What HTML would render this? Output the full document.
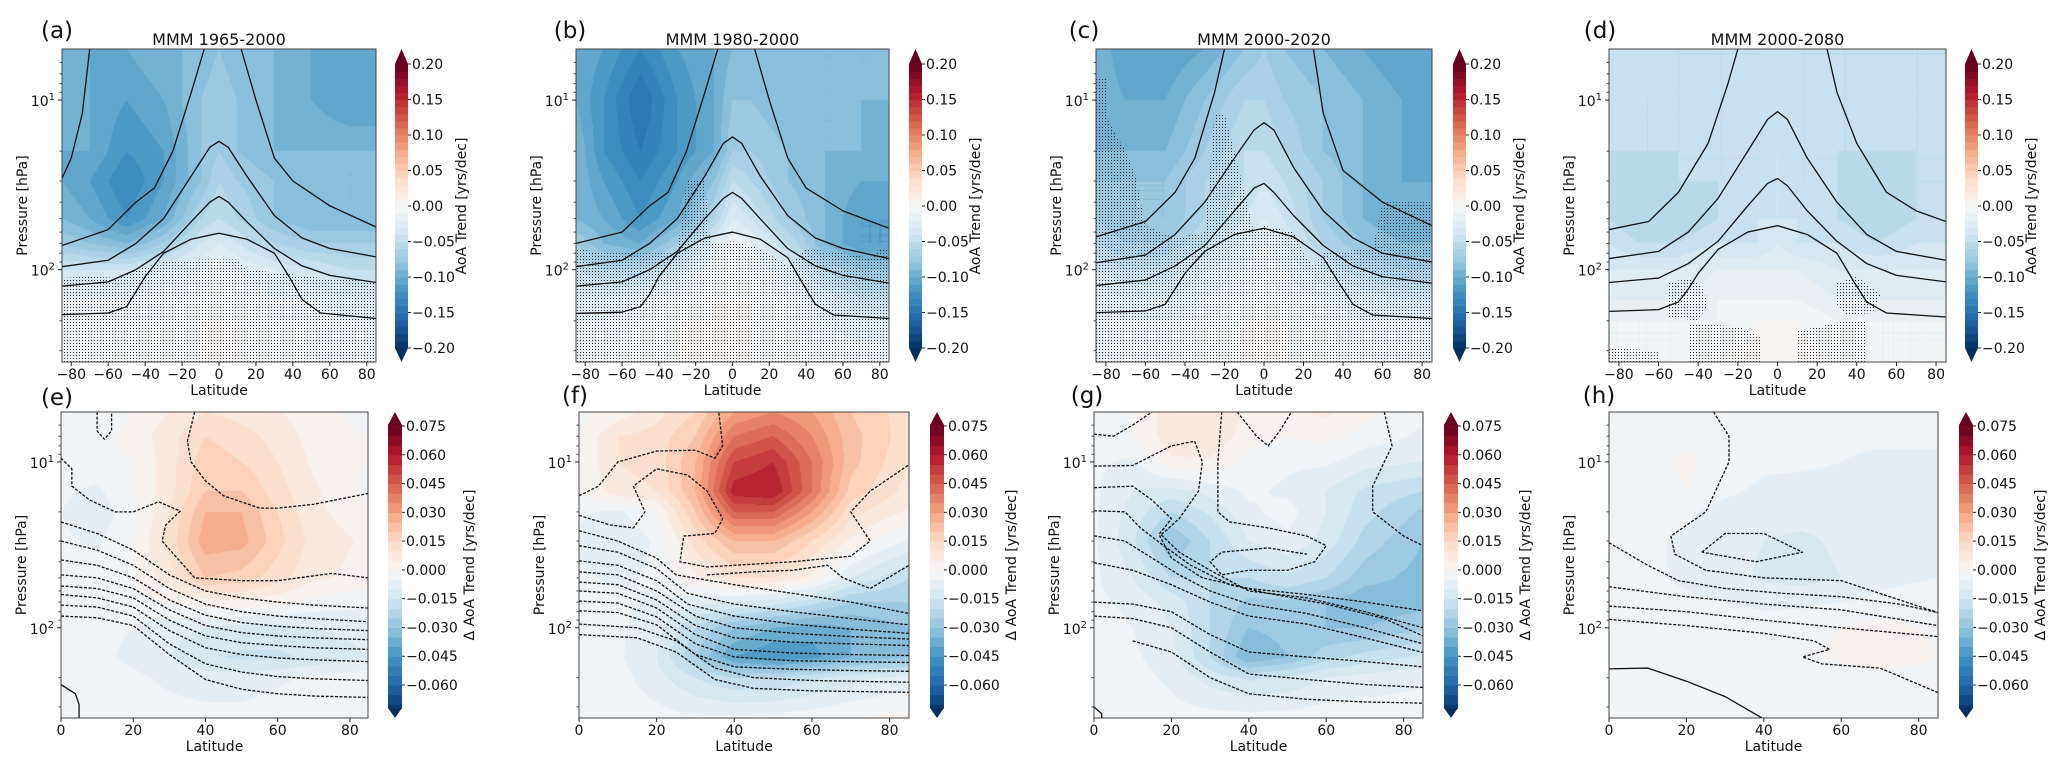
<!DOCTYPE html>
<html><head><meta charset="utf-8">
<style>
html,body{margin:0;padding:0;background:#fff;}
#wrap{position:relative;width:2067px;height:769px;overflow:hidden;background:#fff;font-family:"DejaVu Sans","Liberation Sans",sans-serif;}
canvas{position:absolute;}
svg{position:absolute;left:0;top:0;}
</style></head>
<body>
<div id="wrap">
<svg id="ov" width="2067" height="769">
<defs>
<pattern id="dots" width="3" height="3" patternUnits="userSpaceOnUse"><rect x="1" y="1" width="1" height="1" fill="#222"/></pattern>
</defs>
</svg>
</div>
<script>
// ---------- DATA ----------
const TOP_P=[5,10,20,30,50,70,100,150,200,350];
const TOP_LAT=[-85,-70,-50,-30,-10,0,10,30,50,70,85];
const BOT_P=[5,7,10,15,20,30,50,70,100,150,200,350];
const BOT_LAT=[0,10,20,30,40,50,60,70,85];
const TOP_TICKS=[-0.20,-0.15,-0.10,-0.05,0.00,0.05,0.10,0.15,0.20];
const BOT_TICKS=[-0.060,-0.045,-0.030,-0.015,0.000,0.015,0.030,0.045,0.060,0.075];
const TOP_XT=[-80,-60,-40,-20,0,20,40,60,80];
const BOT_XT=[0,20,40,60,80];
const TITLES=["MMM 1965-2000","MMM 1980-2000","MMM 2000-2020","MMM 2000-2080"];

const fieldA=[
[-0.09,-0.10,-0.10,-0.09,-0.09,-0.08,-0.09,-0.09,-0.10,-0.10,-0.10],
[-0.09,-0.10,-0.11,-0.10,-0.08,-0.07,-0.08,-0.09,-0.10,-0.11,-0.11],
[-0.10,-0.10,-0.12,-0.11,-0.08,-0.07,-0.08,-0.09,-0.09,-0.09,-0.09],
[-0.10,-0.11,-0.13,-0.11,-0.08,-0.06,-0.07,-0.08,-0.09,-0.09,-0.09],
[-0.09,-0.10,-0.12,-0.10,-0.06,-0.05,-0.06,-0.08,-0.09,-0.09,-0.09],
[-0.07,-0.08,-0.09,-0.07,-0.04,-0.03,-0.04,-0.06,-0.07,-0.07,-0.07],
[-0.04,-0.04,-0.04,-0.03,-0.02,-0.01,-0.02,-0.03,-0.04,-0.05,-0.05],
[-0.02,-0.02,-0.02,-0.01,-0.01,0.00,-0.01,-0.02,-0.02,-0.03,-0.03],
[-0.01,-0.01,-0.01,-0.01,0.00,0.00,0.00,-0.01,-0.01,-0.02,-0.02],
[-0.01,-0.01,-0.01,0.00,0.00,0.00,0.00,0.00,-0.01,-0.01,-0.01]];
const fieldB=[
[-0.10,-0.11,-0.13,-0.11,-0.10,-0.09,-0.09,-0.09,-0.09,-0.09,-0.09],
[-0.10,-0.12,-0.15,-0.12,-0.10,-0.08,-0.08,-0.09,-0.09,-0.09,-0.09],
[-0.09,-0.12,-0.14,-0.12,-0.10,-0.07,-0.07,-0.08,-0.09,-0.09,-0.10],
[-0.09,-0.11,-0.13,-0.11,-0.08,-0.05,-0.06,-0.08,-0.09,-0.10,-0.10],
[-0.09,-0.10,-0.12,-0.10,-0.06,-0.03,-0.04,-0.07,-0.09,-0.11,-0.11],
[-0.07,-0.09,-0.10,-0.07,-0.03,-0.01,-0.02,-0.05,-0.09,-0.11,-0.11],
[-0.05,-0.06,-0.06,-0.04,-0.01,0.00,-0.01,-0.03,-0.06,-0.08,-0.08],
[-0.03,-0.03,-0.02,-0.01,0.00,0.00,0.00,-0.01,-0.03,-0.05,-0.05],
[-0.02,-0.02,-0.01,0.00,0.00,0.00,0.00,-0.01,-0.02,-0.03,-0.03],
[-0.01,-0.01,0.00,0.00,0.00,0.00,0.00,0.00,-0.01,-0.01,-0.01]];
const fieldC=[
[-0.09,-0.11,-0.11,-0.10,-0.08,-0.07,-0.08,-0.09,-0.10,-0.11,-0.11],
[-0.09,-0.10,-0.10,-0.08,-0.06,-0.06,-0.07,-0.08,-0.09,-0.10,-0.11],
[-0.09,-0.09,-0.09,-0.07,-0.05,-0.05,-0.06,-0.08,-0.09,-0.10,-0.11],
[-0.08,-0.08,-0.08,-0.06,-0.05,-0.04,-0.05,-0.07,-0.09,-0.10,-0.10],
[-0.07,-0.08,-0.08,-0.06,-0.04,-0.03,-0.04,-0.07,-0.09,-0.10,-0.10],
[-0.06,-0.07,-0.07,-0.05,-0.03,-0.02,-0.03,-0.06,-0.08,-0.09,-0.09],
[-0.04,-0.05,-0.05,-0.03,-0.02,-0.01,-0.02,-0.04,-0.06,-0.07,-0.07],
[-0.02,-0.03,-0.03,-0.02,-0.01,0.00,-0.01,-0.02,-0.03,-0.04,-0.04],
[-0.01,-0.02,-0.02,-0.01,0.00,0.00,0.00,-0.01,-0.02,-0.02,-0.02],
[-0.01,-0.01,-0.01,0.00,0.00,0.00,0.00,0.00,-0.01,-0.01,-0.01]];
const fieldD=[
[-0.05,-0.04,-0.05,-0.05,-0.05,-0.04,-0.05,-0.05,-0.05,-0.05,-0.05],
[-0.05,-0.05,-0.05,-0.05,-0.05,-0.05,-0.05,-0.05,-0.05,-0.05,-0.05],
[-0.05,-0.05,-0.05,-0.05,-0.05,-0.04,-0.05,-0.05,-0.05,-0.05,-0.05],
[-0.05,-0.06,-0.05,-0.05,-0.05,-0.04,-0.05,-0.05,-0.06,-0.05,-0.05],
[-0.05,-0.06,-0.06,-0.05,-0.04,-0.04,-0.04,-0.05,-0.06,-0.05,-0.05],
[-0.04,-0.05,-0.05,-0.04,-0.04,-0.03,-0.04,-0.04,-0.05,-0.04,-0.04],
[-0.03,-0.03,-0.03,-0.02,-0.02,-0.02,-0.02,-0.03,-0.03,-0.03,-0.03],
[-0.02,-0.02,-0.02,-0.01,-0.01,-0.01,-0.01,-0.02,-0.02,-0.02,-0.02],
[-0.01,-0.01,-0.01,-0.01,0.00,0.00,0.00,-0.01,-0.01,-0.01,-0.01],
[-0.01,-0.01,-0.01,0.00,0.003,0.004,0.003,0.00,-0.01,-0.01,-0.01]];
const fieldE=[
[-0.003,-0.003,0.000,0.005,0.010,0.008,0.005,0.003,-0.003],
[-0.003,-0.002,0.002,0.008,0.015,0.012,0.008,0.003,0.000],
[-0.002,-0.002,0.000,0.008,0.018,0.015,0.010,0.004,0.000],
[-0.004,-0.006,0.000,0.008,0.020,0.020,0.012,0.006,-0.002],
[-0.005,-0.008,-0.002,0.010,0.025,0.025,0.015,0.006,0.002],
[-0.004,-0.006,0.000,0.012,0.028,0.027,0.017,0.008,0.004],
[-0.002,-0.003,0.000,0.008,0.020,0.018,0.012,0.006,0.003],
[-0.003,-0.003,-0.002,0.000,0.003,0.004,0.002,-0.002,-0.004],
[-0.004,-0.004,-0.005,-0.008,-0.010,-0.012,-0.012,-0.010,-0.008],
[-0.004,-0.004,-0.006,-0.010,-0.014,-0.016,-0.016,-0.014,-0.010],
[-0.004,-0.004,-0.004,-0.006,-0.008,-0.008,-0.006,-0.004,-0.002],
[-0.003,-0.003,-0.003,-0.003,-0.003,-0.003,-0.002,-0.001,0.000]];
const fieldF=[
[-0.002,0.002,0.008,0.015,0.030,0.035,0.030,0.020,0.012],
[0.000,0.010,0.012,0.020,0.040,0.045,0.035,0.022,0.012],
[0.000,0.010,0.012,0.025,0.050,0.055,0.040,0.022,0.010],
[0.000,0.008,0.010,0.025,0.058,0.060,0.040,0.018,0.008],
[-0.004,-0.006,0.000,0.020,0.045,0.045,0.030,0.012,0.004],
[-0.006,-0.010,-0.004,0.012,0.025,0.025,0.015,0.004,-0.006],
[-0.004,-0.006,-0.004,0.004,0.010,0.010,0.004,-0.010,-0.020],
[-0.003,-0.004,-0.006,-0.008,-0.010,-0.012,-0.018,-0.025,-0.025],
[-0.003,-0.004,-0.008,-0.020,-0.030,-0.035,-0.038,-0.035,-0.030],
[-0.003,-0.004,-0.010,-0.025,-0.040,-0.045,-0.042,-0.035,-0.030],
[-0.003,-0.003,-0.008,-0.015,-0.020,-0.020,-0.016,-0.012,-0.008],
[-0.002,-0.002,-0.003,-0.004,-0.004,-0.003,-0.002,0.000,0.002]];
const fieldG=[
[-0.002,0.000,0.008,0.010,0.004,0.004,0.006,0.002,-0.004],
[-0.002,0.000,0.008,0.010,0.002,0.000,0.002,-0.002,-0.006],
[-0.004,-0.006,0.004,0.004,-0.002,-0.004,-0.004,-0.008,-0.010],
[-0.004,-0.010,-0.012,-0.008,-0.004,-0.006,-0.010,-0.016,-0.020],
[-0.004,-0.012,-0.020,-0.014,-0.006,-0.003,-0.010,-0.018,-0.026],
[-0.004,-0.014,-0.030,-0.020,-0.010,-0.006,-0.012,-0.022,-0.030],
[-0.004,-0.010,-0.020,-0.020,-0.020,-0.016,-0.020,-0.028,-0.032],
[-0.004,-0.006,-0.012,-0.020,-0.026,-0.026,-0.030,-0.034,-0.032],
[-0.003,-0.005,-0.010,-0.020,-0.030,-0.028,-0.030,-0.030,-0.026],
[-0.003,-0.004,-0.008,-0.020,-0.035,-0.030,-0.022,-0.018,-0.014],
[-0.003,-0.003,-0.006,-0.012,-0.016,-0.014,-0.010,-0.008,-0.006],
[-0.003,-0.003,-0.003,-0.003,-0.003,-0.003,-0.002,-0.002,-0.002]];
const fieldH=[
[-0.003,-0.003,-0.002,-0.002,-0.003,-0.004,-0.004,-0.004,-0.004],
[-0.003,-0.002,-0.001,-0.002,-0.003,-0.004,-0.004,-0.004,-0.004],
[-0.003,-0.002,0.001,-0.002,-0.004,-0.004,-0.005,-0.006,-0.006],
[-0.004,-0.003,0.000,-0.004,-0.006,-0.007,-0.007,-0.007,-0.007],
[-0.004,-0.004,-0.004,-0.007,-0.008,-0.008,-0.008,-0.007,-0.007],
[-0.004,-0.004,-0.006,-0.008,-0.010,-0.011,-0.009,-0.007,-0.006],
[-0.003,-0.004,-0.006,-0.008,-0.011,-0.012,-0.010,-0.006,-0.005],
[-0.003,-0.003,-0.004,-0.005,-0.006,-0.006,-0.005,-0.004,-0.003],
[-0.002,-0.002,-0.002,-0.003,-0.003,-0.002,0.000,0.002,-0.001],
[-0.003,-0.003,-0.002,-0.002,-0.002,-0.001,0.001,0.003,0.000],
[-0.003,-0.003,-0.003,-0.003,-0.003,-0.003,-0.003,-0.002,-0.002],
[-0.003,-0.003,-0.003,-0.003,-0.003,-0.003,-0.003,-0.003,-0.003]];

// contour lines [lat, pressure]
const contA=[
[[-70,5],[-74,12],[-80,22],[-85,29]],
[[-85,72],[-60,58],[-45,40],[-35,33],[-25,20],[-15,9],[-8,5],[0,3.5],[12,5],[20,10],[30,22],[40,30],[60,42],[85,56]],
[[-85,96],[-60,88],[-45,70],[-30,50],[-15,28],[-5,19],[0,17.5],[5,19],[15,28],[30,48],[45,65],[60,75],[85,84]],
[[-85,125],[-60,118],[-45,100],[-30,78],[-15,52],[-5,40],[0,37],[5,40],[15,52],[30,75],[45,95],[60,108],[85,119]],
[[-85,184],[-60,180],[-50,165],[-45,135],[-40,110],[-30,80],[-15,66],[0,61],[15,66],[30,80],[38,110],[45,150],[55,180],[85,194]]];
const contB=[
[[-85,70],[-60,60],[-45,42],[-35,35],[-25,20],[-15,9],[-8,5],[0,3.5],[12,5],[20,10],[30,22],[40,33],[60,45],[85,57]],
[[-85,96],[-60,88],[-45,70],[-30,50],[-15,28],[-5,18],[0,16.5],[5,18],[15,28],[30,48],[45,65],[60,75],[85,86]],
[[-85,125],[-60,118],[-45,100],[-30,78],[-15,50],[-5,38],[0,35],[5,38],[15,50],[30,75],[45,95],[60,108],[85,120]],
[[-85,181],[-60,178],[-50,165],[-45,140],[-40,110],[-30,80],[-15,65],[0,60],[15,66],[30,85],[38,120],[45,160],[55,185],[85,194]]];
const contC=[
[[-85,64],[-60,52],[-45,35],[-35,22],[-25,9],[-20,5],[0,3],[25,5],[30,12],[40,26],[60,40],[85,55]],
[[-85,91],[-60,82],[-45,62],[-30,40],[-15,22],[-5,15],[0,13.6],[5,15],[15,25],[30,45],[45,65],[60,80],[85,90]],
[[-85,124],[-60,115],[-45,95],[-30,72],[-15,45],[-5,33],[0,31],[5,35],[15,48],[30,72],[45,95],[60,110],[85,120]],
[[-85,179],[-60,175],[-50,160],[-45,130],[-40,105],[-30,78],[-15,62],[0,57],[15,64],[30,85],[38,120],[45,160],[55,185],[85,194]]];
const contD=[
[[-85,58],[-65,52],[-50,35],[-35,18],[-25,8],[-20,5],[0,3],[25,5],[30,9],[40,18],[55,35],[70,45],[85,52]],
[[-85,86],[-60,78],[-45,60],[-30,38],[-15,20],[-5,13],[0,11.7],[5,13],[15,22],[30,40],[45,62],[60,78],[85,88]],
[[-85,119],[-60,112],[-45,92],[-30,68],[-15,42],[-5,31],[0,29],[5,32],[15,45],[30,68],[45,92],[60,108],[85,118]],
[[-85,176],[-60,172],[-50,155],[-45,130],[-40,105],[-30,76],[-15,60],[0,55],[15,62],[30,80],[38,115],[45,155],[55,180],[85,190]]];
const contE=[
[[10,5],[10,6.5],[12,7.3],[14,6.5],[14,5]],
[[37,5],[35,7.5],[36,10],[40,13],[45,16],[55,19],[60,19],[70,18],[85,15.5]],
[[0,9.5],[3,11],[3,14],[8,17],[15,20],[20,20],[27,17.4],[33,19.8],[29,24],[28,30],[37,50],[50,52],[60,52],[75,47],[85,50]],
[[0,23],[10,27],[20,34],[30,48],[40,60],[50,66],[60,70],[70,73],[85,76]],
[[0,30],[10,34],[20,42],[30,58],[40,72],[50,80],[60,85],[70,88],[85,92]],
[[0,39],[10,42],[20,50],[30,68],[40,84],[50,93],[60,98],[70,101],[85,104]],
[[0,48],[10,50],[20,58],[30,78],[40,97],[50,107],[60,112],[70,115],[85,118]],
[[0,56],[10,58],[20,66],[30,90],[40,112],[50,123],[60,128],[70,132],[85,135]],
[[0,63],[10,66],[20,75],[30,104],[40,132],[50,145],[60,152],[70,156],[85,160]],
[[0,73],[10,75],[20,85],[30,125],[40,165],[50,185],[60,197],[70,203],[85,208]],
[[0,85],[10,87],[20,97],[30,145],[40,205],[50,235],[60,250],[70,258],[85,263]]];
const solidE=[[0,220],[4,250],[5,290],[5,360]];
const contF=[
[[0,16],[5,14],[10,10],[20,8.6],[30,8.5],[35,9.5],[37,8],[36,5]],
[[0,21],[8,24],[14,25],[17,20],[14,14],[20,11],[28,12],[33,15],[37,22],[35,27],[27,28],[26,40],[33,43],[40,42],[55,40],[70,37],[75,30],[70,20],[75,15],[85,10.4]],
[[33,48],[45,46],[55,45],[64,42],[68,50],[75,58],[85,42]],
[[0,26],[10,30],[20,38],[25,48],[40,55],[55,62],[70,70],[85,82]],
[[0,32],[10,35],[20,44],[28,62],[40,72],[55,80],[70,88],[85,96]],
[[0,39.5],[10,42],[20,52],[28,72],[40,85],[55,95],[70,102],[85,108]],
[[0,46],[10,48],[20,60],[30,85],[40,100],[55,108],[70,113],[85,117]],
[[0,53],[10,55],[20,68],[30,97],[40,115],[55,122],[70,125],[85,128]],
[[0,60],[10,62],[20,76],[30,110],[40,135],[55,142],[70,145],[85,147]],
[[0,69],[10,71],[20,86],[30,125],[40,150],[55,158],[70,160],[85,162]],
[[0,79],[10,81],[20,96],[30,145],[40,172],[55,178],[70,181],[85,183]],
[[0,95],[15,100],[25,120],[35,175],[45,200],[60,208],[85,213]],
[[0,110],[15,115],[25,140],[35,205],[45,232],[60,240],[85,245]]];
const solidF=[];
const contG=[
[[0,6.8],[5,7],[10,6],[15,5]],
[[37,5],[42,7],[45,8],[48,6.5],[51,5]],
[[75,5],[77,8],[72,14],[72,20],[80,28],[85,32]],
[[33,5],[32,10],[32,20],[35,23],[45,25],[55,28],[60,32],[57,40],[50,45],[40,45],[33,48],[30,40],[33,35],[45,33],[55,36]],
[[0,10.6],[10,10.5],[20,8],[26,7.5],[28,10],[27,15],[22,22],[17,28],[20,38],[28,50],[40,58],[55,63],[70,70],[85,79]],
[[0,14.3],[10,14],[15,17],[20,22],[17,27],[22,35],[30,45],[40,60],[55,66],[70,80],[85,100]],
[[0,19.7],[8,20],[12,25],[18,32],[25,42],[35,55],[45,62],[60,72],[75,88],[85,112]],
[[0,27.9],[8,30],[15,38],[22,48],[30,60],[40,72],[55,82],[70,100],[85,125]],
[[0,40.5],[10,45],[20,55],[30,70],[40,85],[55,95],[70,115],[85,141]],
[[0,70],[10,72],[20,80],[30,110],[40,140],[55,150],[70,160],[85,172]],
[[0,85],[10,88],[20,100],[30,140],[40,190],[55,205],[70,220],[85,229]],
[[10,120],[20,140],[30,200],[40,250],[55,270],[70,280],[85,285]]];
const solidG=[[0,300],[2,330],[2,360]];
const contH=[
[[27,5],[31,7],[31,10],[25,20],[16,28],[17,36],[25,45],[40,50],[60,52],[85,81]],
[[24,35],[30,27],[40,27],[50,35],[38,40],[24,35]],
[[0,30.7],[10,42],[18,52],[30,58],[45,62],[60,65],[75,72],[85,81]],
[[0,56.6],[20,65],[40,72],[60,78],[85,97]],
[[0,74],[20,80],[40,90],[60,100],[85,113]],
[[0,89],[20,97],[40,108],[53,120],[57,135],[50,150],[55,165],[70,175],[85,246]]];
const solidH=[[0,177],[10,175],[20,210],[30,260],[40,355]];

const stipA=[[[-85,112],[-70,110],[-55,112],[-45,100],[-30,90],[-10,87],[10,87],[15,100],[35,105],[55,112],[75,115],[85,120],[85,350],[-85,350]]];
const stipB=[[[-85,75],[-70,80],[-30,80],[-25,30],[-15,30],[-12,70],[0,68],[15,75],[30,95],[40,75],[60,80],[75,85],[80,75],[85,75],[85,350],[-85,350]]];
const stipC=[[[-85,7.5],[-80,7.5],[-80,12],[-75,16],[-70,20],[-65,28],[-60,55],[-45,65],[-30,60],[-25,12],[-20,12],[-15,20],[-5,60],[0,55],[15,60],[20,80],[25,95],[30,80],[55,75],[60,40],[75,40],[85,40],[85,350],[-85,350]]];
const stipD=[[[-55,120],[-45,112],[-38,125],[-35,160],[-40,200],[-55,190]],[[30,120],[40,110],[52,140],[48,180],[35,185],[30,160]],[[-45,210],[-20,215],[-8,250],[-8,350],[-45,350]],[[10,230],[35,200],[45,200],[45,350],[10,350]],[[-85,290],[-60,300],[-60,350],[-85,350]]];

// ---------- LAYOUT ----------
const NS="http://www.w3.org/2000/svg";
const svg=document.getElementById('ov');
const wrap=document.getElementById('wrap');
function mk(tag,attrs,parent){const e=document.createElementNS(NS,tag);for(const k in attrs)e.setAttribute(k,attrs[k]);(parent||svg).appendChild(e);return e;}
const STOPS=['#053061','#2166ac','#4393c3','#92c5de','#d1e5f0','#f7f7f7','#fddbc7','#f4a582','#d6604d','#b2182b','#67001f'].map(h=>[parseInt(h.substr(1,2),16),parseInt(h.substr(3,2),16),parseInt(h.substr(5,2),16)]);
function cmap(t){t=Math.max(0,Math.min(1,t));const s=t*10;const i=Math.min(9,Math.floor(s));const f=s-i;const a=STOPS[i],b=STOPS[i+1];return [a[0]+(b[0]-a[0])*f,a[1]+(b[1]-a[1])*f,a[2]+(b[2]-a[2])*f];}
function rgb(c){return 'rgb('+c.map(Math.round).join(',')+')';}
function interp(field,lats,ps,lat,p){
  const lp=Math.log10(p);const lps=ps.map(Math.log10);
  let i=0;while(i<lats.length-2&&lat>lats[i+1])i++;
  let j=0;while(j<lps.length-2&&lp>lps[j+1])j++;
  let fx=(lat-lats[i])/(lats[i+1]-lats[i]);fx=Math.max(0,Math.min(1,fx));
  let fy=(lp-lps[j])/(lps[j+1]-lps[j]);fy=Math.max(0,Math.min(1,fy));
  const v00=field[j][i],v01=field[j][i+1],v10=field[j+1][i],v11=field[j+1][i+1];
  return (v00*(1-fx)+v01*fx)*(1-fy)+(v10*(1-fx)+v11*fx)*fy;
}
const P0=5,P1=350;
const panels=[
 {k:'a',row:0,x0:62,x1:376,y0:49,y1:362,cb:395,f:fieldA,c:contA,s:stipA,sol:[],lab:[57,30],t:0},
 {k:'b',row:0,x0:576,x1:889,y0:49,y1:362,cb:909,f:fieldB,c:contB,s:stipB,sol:[],lab:[570,30],t:1},
 {k:'c',row:0,x0:1096,x1:1432,y0:49,y1:362,cb:1453,f:fieldC,c:contC,s:stipC,sol:[],lab:[1084,30],t:2},
 {k:'d',row:0,x0:1609,x1:1946,y0:49,y1:362,cb:1965,f:fieldD,c:contD,s:stipD,sol:[],lab:[1600,30],t:3},
 {k:'e',row:1,x0:61,x1:368,y0:412,y1:718,cb:388,f:fieldE,c:contE,s:[],sol:solidE,lab:[57,397]},
 {k:'f',row:1,x0:579,x1:909,y0:412,y1:718,cb:930,f:fieldF,c:contF,s:[],sol:solidF,lab:[575,395]},
 {k:'g',row:1,x0:1094,x1:1423,y0:412,y1:718,cb:1444,f:fieldG,c:contG,s:[],sol:solidG,lab:[1087,395]},
 {k:'h',row:1,x0:1609,x1:1938,y0:412,y1:718,cb:1959,f:fieldH,c:contH,s:[],sol:solidH,lab:[1599,395]}];

panels.forEach(P=>{
  const top=P.row===0;
  const lats=top?TOP_LAT:BOT_LAT, ps=top?TOP_P:BOT_P;
  const L0=top?-85:0,L1=85, vmax=top?0.2:0.075, step=top?0.01:0.005;
  const W=P.x1-P.x0,H=P.y1-P.y0;
  const xs=lat=>P.x0+(lat-L0)/(L1-L0)*W;
  const ys=p=>P.y0+(Math.log10(p)-Math.log10(P0))/(Math.log10(P1)-Math.log10(P0))*H;
  const cv=document.createElement('canvas');cv.width=W;cv.height=H;
  cv.style.left=P.x0+'px';cv.style.top=P.y0+'px';
  
  
  wrap.insertBefore(cv,svg);
  const ctx=cv.getContext('2d');const img=ctx.createImageData(W,H);
  for(let y=0;y<H;y++){const p=Math.pow(10,Math.log10(P0)+(y+0.5)/H*(Math.log10(P1)-Math.log10(P0)));
    for(let x=0;x<W;x++){const lat=L0+(x+0.5)/W*(L1-L0);
      let v=interp(P.f,lats,ps,lat,p);v=(Math.floor(v/step)+0.5)*step;
      const c=cmap((v+vmax)/(2*vmax));const o=(y*W+x)*4;img.data[o]=c[0];img.data[o+1]=c[1];img.data[o+2]=c[2];img.data[o+3]=255;}}
  ctx.putImageData(img,0,0);
  const g=mk('g',{});
  
  
  const cid='clip'+P.k;
  const cp=mk('clipPath',{id:cid},g);mk('rect',{x:P.x0,y:P.y0,width:W,height:H},cp);
  P.s.forEach(poly=>{
    const e=mk('polygon',{points:poly.map(q=>xs(q[0])+','+ys(q[1])).join(' '),fill:'url(#dots)','clip-path':'url(#'+cid+')'},g);
    
    
  });
  P.c.forEach(line=>{
    const e=mk('polyline',{points:line.map(q=>xs(q[0])+','+ys(q[1])).join(' '),fill:'none',stroke:'#111','stroke-width':1.3,'stroke-dasharray':top?'none':'3,1.6','clip-path':'url(#'+cid+')','stroke-linejoin':'round'},g);
    
    
  });
  if(P.sol.length){
    const e=mk('polyline',{points:P.sol.map(q=>xs(q[0])+','+ys(q[1])).join(' '),fill:'none',stroke:'#111','stroke-width':1.3,'clip-path':'url(#'+cid+')'},g);
    
    
  }
  const fr=mk('rect',{x:P.x0,y:P.y0,width:W,height:H,fill:'none',stroke:'#444','stroke-width':1},g);
  
  
  (top?TOP_XT:BOT_XT).forEach(v=>{
    const x=xs(v);
    const tk=mk('line',{x1:x,x2:x,y1:P.y1,y2:P.y1+4,stroke:'#222'},g);
    
    
    const t=mk('text',{x:x,y:P.y1+17,'font-size':14,'text-anchor':'middle',fill:'#111'},g);
    t.textContent=(v<0?'\u2212':'')+Math.abs(v);
    
    
  });
  const xl=mk('text',{x:(P.x0+P.x1)/2,y:P.y1+33,'font-size':14,'text-anchor':'middle',fill:'#111'},g);
  xl.textContent='Latitude';
  
  
  [6,7,8,9,20,30,40,50,60,70,80,90,200,300].forEach(v=>{
    const y=ys(v);
    const tk=mk('line',{x1:P.x0-2.5,x2:P.x0,y1:y,y2:y,stroke:'#444'},g);
    
    
  });
  [10,100].forEach((v,i)=>{
    const y=ys(v);
    const tk=mk('line',{x1:P.x0-4,x2:P.x0,y1:y,y2:y,stroke:'#222'},g);
    
    
    const t=mk('text',{x:P.x0-7,y:y+6,'font-size':14,'text-anchor':'end',fill:'#111'},g);
    t.textContent='10';
    const sp=mk('tspan',{dy:-6,'font-size':10},t);sp.textContent=i===0?'1':'2';
    
    
  });
  const yl=mk('text',{x:0,y:0,'font-size':14,'text-anchor':'middle',fill:'#111',transform:'translate('+(P.x0-35)+','+((P.y0+P.y1)/2)+') rotate(-90)'},g);
  yl.textContent='Pressure [hPa]';
  
  
  const pl=mk('text',{x:P.lab[0],y:P.lab[1]+8,'font-size':23,'text-anchor':'middle',fill:'#111'},g);
  pl.textContent='('+P.k+')';
  
  
  if(top){
    const tt=mk('text',{x:(P.x0+P.x1)/2,y:45,'font-size':16,'text-anchor':'middle',fill:'#111'},g);
    tt.textContent=TITLES[P.t];
    
    
  }
  const cbw=top?13:14;
  const ticks=top?TOP_TICKS:BOT_TICKS;
  const yA=top?64:426, yB=top?348:685;
  const vA=ticks[ticks.length-1], vB=ticks[0];
  const yc=v=>yA+(vA-v)/(vA-vB)*(yB-yA);
  const bodyTop=top?64:425, bodyBot=top?348:708;
  const tipTop=top?49:412, tipBot=top?362:718;
  const cg=mk('g',{},g);
  
  
  const nlev=Math.round(2*vmax/step);
  for(let i=0;i<nlev;i++){
    const v0=-vmax+i*step,v1=v0+step;
    let ya=Math.max(bodyTop,Math.min(bodyBot,yc(v1))), yb=Math.max(bodyTop,Math.min(bodyBot,yc(v0)));
    if(i===nlev-1)ya=bodyTop; if(i===0)yb=bodyBot;
    if(yb<=ya)continue;
    const r=mk('rect',{x:P.cb,y:ya,width:cbw,height:yb-ya+0.6,fill:rgb(cmap((v0+v1)/2/(2*vmax)+0.5))},cg);
    
    
  }
  const t1=mk('polygon',{points:P.cb+','+bodyTop+' '+(P.cb+cbw)+','+bodyTop+' '+(P.cb+cbw/2)+','+tipTop,fill:'#67001f'},cg);
  
  
  const t2=mk('polygon',{points:P.cb+','+bodyBot+' '+(P.cb+cbw)+','+bodyBot+' '+(P.cb+cbw/2)+','+tipBot,fill:'#053061'},cg);
  
  
  ticks.forEach(v=>{
    const y=yc(v);
    const tk=mk('line',{x1:P.cb+cbw,x2:P.cb+cbw+3,y1:y,y2:y,stroke:'#222'},cg);
    
    
    const t=mk('text',{x:P.cb+cbw+4,y:y+5,'font-size':14,fill:'#111'},cg);
    t.textContent=(v<0?'\u2212':'')+Math.abs(v).toFixed(top?2:3);
    
    
  });
  const cl=mk('text',{x:0,y:0,'font-size':14,'text-anchor':'middle',fill:'#111',transform:'translate('+(P.cb+cbw+(top?58:72))+','+(top?206:565)+') rotate(-90)'},cg);
  cl.textContent=top?'AoA Trend [yrs/dec]':'\u0394 AoA Trend [yrs/dec]';
  
  
});
</script>
</body></html>
